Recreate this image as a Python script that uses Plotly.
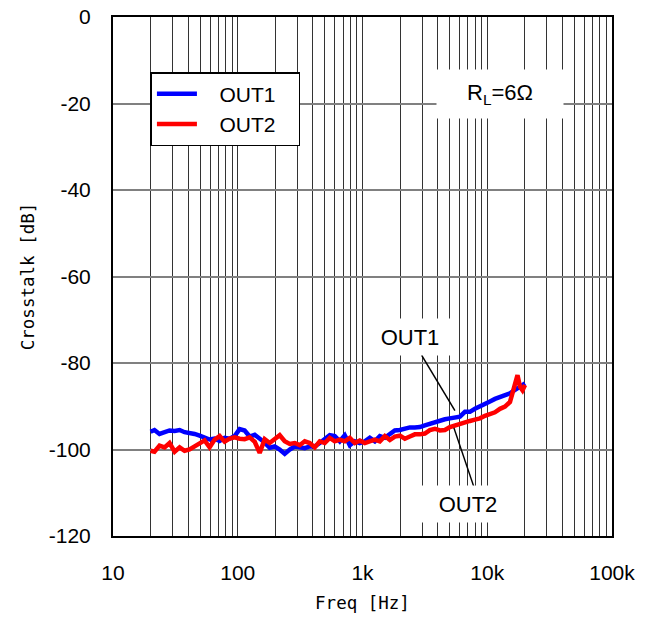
import math
import plotly.graph_objects as go

freq_hz = [20, 21.5, 23.6, 25.9, 28.4, 31.2, 34.2, 37.5, 41.1, 45.1, 49.5, 54.2, 59.5, 65.3, 71.6, 78.5,
           86.1, 94.4, 103.6, 113.6, 124.6, 136.7, 149.9, 164.4, 180.3, 197.8, 216.9, 237.9, 260.9,
           286.2, 313.9, 344.3, 377.6, 414.2, 454.3, 498.2, 546.5, 599.4, 657.4, 721.0, 790.9, 867.4,
           951.3, 1043, 1144, 1255, 1377, 1510, 1656, 1816, 1992, 2185, 2396, 2628, 2883, 3162, 3468,
           3804, 4173, 4577, 5020, 5506, 6039, 6623, 7265, 7968, 8740, 9586, 10513, 11532, 12648,
           13873, 15216, 16689, 17477, 18305, 19170, 20077]

out1_db = [-95.9, -95.5, -96.4, -96.1, -95.6, -95.7, -95.5, -96.0, -96.1, -96.4, -96.8, -97.3, -97.7,
           -97.5, -98.0, -97.3, -97.5, -96.9, -95.3, -95.6, -97.0, -96.6, -97.4, -98.4, -99.6, -99.3,
           -100.0, -101.0, -100.0, -99.3, -99.5, -99.7, -99.3, -99.3, -98.5, -97.7, -96.7, -96.9, -98.1,
           -96.7, -99.0, -98.1, -98.5, -98.1, -97.3, -98.1, -96.9, -97.3, -96.4, -95.6, -95.5, -95.2,
           -94.9, -94.9, -94.8, -94.4, -94.0, -93.6, -93.2, -93.0, -92.8, -92.6, -92.4, -91.3, -91.3,
           -90.6, -90.1, -89.5, -88.9, -88.3, -87.8, -87.4, -87.0, -86.2, -85.9, -85.5, -85.1, -84.7]

out2_db = [-100.3, -100.5, -99.1, -99.5, -98.5, -100.5, -99.5, -100.3, -100.0, -99.2, -98.5, -97.9,
           -99.5, -97.7, -96.9, -98.2, -97.5, -97.2, -97.5, -97.6, -97.2, -98.2, -100.8, -97.6, -98.5,
           -97.7, -96.7, -98.1, -98.7, -98.5, -99.0, -98.1, -98.5, -99.5, -98.1, -98.5, -97.3, -98.1,
           -97.7, -98.1, -97.3, -98.5, -97.9, -98.5, -98.1, -97.7, -98.1, -96.9, -97.8, -97.0, -96.8,
           -97.5, -97.0, -96.5, -96.5, -96.3, -95.5, -95.2, -95.6, -95.5, -94.8, -94.4, -94.0, -93.7,
           -93.4, -93.1, -92.8, -92.2, -91.8, -91.4, -90.6, -90.1, -89.0, -85.1, -82.8, -85.5, -86.3,
           -85.1]

x_ticks = [10, 100, 1000, 10000, 100000]
x_tick_text = ["10", "100", "1k", "10k", "100k"]
x_minor = [m * d for d in [10, 100, 1000, 10000] for m in range(2, 10)]
y_ticks = [0, -20, -40, -60, -80, -100, -120]
y_tick_text = ["0", "-20", "-40", "-60", "-80", "-100", "-120"]

FONT = "Liberation Sans, Arial, sans-serif"
TITLE_FONT = "DejaVu Sans Mono, monospace"
NB = "\u00a0"

fig = go.Figure()
fig.add_trace(go.Scatter(x=freq_hz, y=out1_db, mode="lines", name=NB * 3 + "OUT1" + NB * 3,
                         line=dict(color="#0000ff", width=4.5)))
fig.add_trace(go.Scatter(x=freq_hz, y=out2_db, mode="lines", name=NB * 3 + "OUT2" + NB * 3,
                         line=dict(color="#ff0000", width=4.5)))

fig.update_layout(
    width=657, height=624,
    margin=dict(l=113, r=45, t=17, b=88),
    paper_bgcolor="white", plot_bgcolor="white",
    font=dict(family=FONT, size=20, color="black"),
    showlegend=True,
    legend=dict(x=0.075, y=0.894, xanchor="left", yanchor="top",
                bgcolor="white", bordercolor="black", borderwidth=1.5,
                font=dict(size=21, family=FONT), tracegroupgap=0,
                itemwidth=40),
)

fig.update_xaxes(
    type="log", range=[1, 5], automargin=False,
    tickvals=x_ticks, ticktext=x_tick_text,
    showgrid=True, gridcolor="#333333", gridwidth=1,
    minor=dict(tickvals=x_minor, showgrid=True, gridcolor="#333333", gridwidth=1, ticks=""),
    showline=True, linecolor="black", linewidth=2, mirror=True,
    ticks="", ticklabelstandoff=17,
    tickfont=dict(size=21, family=FONT),
    title=dict(text="Freq [Hz]", font=dict(size=17.5, family=TITLE_FONT), standoff=14),
    zeroline=False,
)
fig.update_yaxes(
    range=[-120, 0], automargin=False,
    tickvals=y_ticks, ticktext=y_tick_text,
    showgrid=True, gridcolor="#808080", gridwidth=2,
    showline=True, linecolor="black", linewidth=2, mirror=True,
    ticks="", ticklabelstandoff=16,
    tickfont=dict(size=21, family=FONT),
    title=dict(text="Crosstalk [dB]", font=dict(size=17.5, family=TITLE_FONT), standoff=10),
    zeroline=False,
)

# callout lines
fig.add_shape(type="line", x0=2975, y0=-78.2, x1=5506, y1=-91.0,
              line=dict(color="black", width=1.5))
fig.add_shape(type="line", x0=5404, y0=-95.0, x1=7824, y1=-108.7,
              line=dict(color="black", width=1.5))

fig.add_annotation(x=math.log10(2400), y=-74.0, text="OUT1", showarrow=False,
                   font=dict(size=22, family=FONT), bgcolor="white",
                   width=90, height=34)
fig.add_annotation(x=math.log10(7000), y=-112.6, text="OUT2", showarrow=False,
                   font=dict(size=22, family=FONT), bgcolor="white",
                   width=90, height=34)
fig.add_annotation(x=math.log10(12650), y=-17.7, text="R<sub>L</sub>=6Ω", showarrow=False,
                   font=dict(size=22, family=FONT), bgcolor="white",
                   width=124, height=46)

fig.write_html("out.html", config={"displayModeBar": False},
               post_script="document.body.style.margin='0px';document.body.style.overflow='hidden';")
